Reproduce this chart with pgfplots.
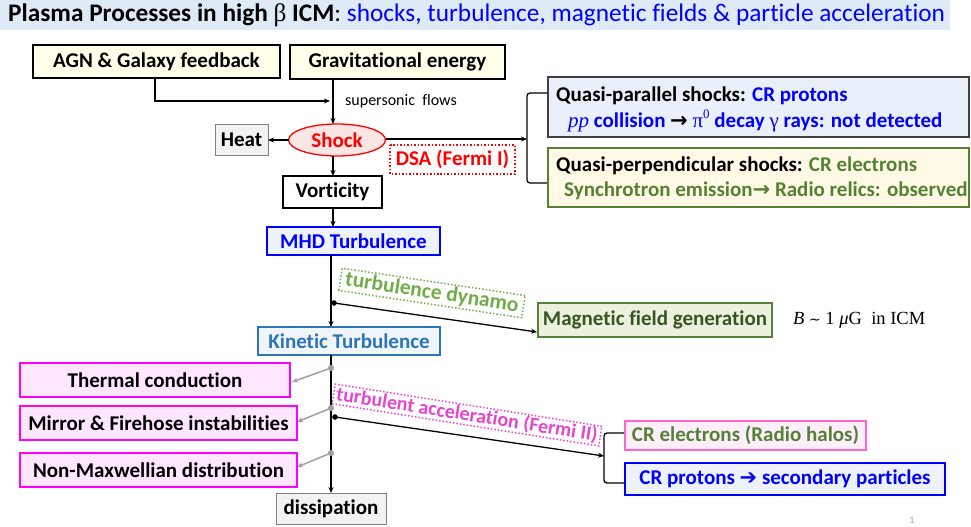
\documentclass[border=0pt]{standalone}
\usepackage{pgfplots}
\pgfplotsset{compat=1.18}
\usepackage{fontspec}
\setmainfont{Carlito}[Ligatures=NoCommon]
\newfontfamily\serif{Liberation Serif}
\newfontfamily\dejavu{DejaVu Sans}
\usetikzlibrary{arrows.meta,shapes.geometric}
\definecolor{titlebg}{HTML}{DEEBF7}
\definecolor{tblue}{HTML}{0000FF}
\definecolor{yelbox}{HTML}{FFFFEA}
\definecolor{shockfill}{HTML}{FCE6E4}
\definecolor{heatfill}{HTML}{F2F2F2}
\definecolor{heatdraw}{HTML}{7F7F7F}
\definecolor{b1fill}{HTML}{EAF0FA}
\definecolor{b2fill}{HTML}{FFF9E6}
\definecolor{dgreen}{HTML}{548235}
\definecolor{lgreen}{HTML}{70AD47}
\definecolor{mgfill}{HTML}{EBF1DE}
\definecolor{mgtext}{HTML}{375623}
\definecolor{mhdfill}{HTML}{EEF2FB}
\definecolor{kinblue}{HTML}{2E75B6}
\definecolor{kinfill}{HTML}{F0F5FA}
\definecolor{pinkfill}{HTML}{FFE6FF}
\definecolor{magenta2}{HTML}{FF00FF}
\definecolor{tacc}{HTML}{E545CF}
\definecolor{crefill}{HTML}{FDEEFB}
\definecolor{credraw}{HTML}{FF66CC}
\definecolor{grayarr}{HTML}{A0A0A0}
\newcommand\B{\fontsize{21bp}{24bp}\selectfont\bfseries}
\newcommand\bx[5]{\addplot[#5] coordinates {(#1,#2) (#3,#2) (#3,#4) (#1,#4)} -- cycle;}
\tikzset{arr/.style={line width=1.3bp,-{Stealth[length=6bp,width=5bp]}}}
\begin{document}
\begin{tikzpicture}
\begin{axis}[xmin=0,xmax=971,ymin=0,ymax=527,y dir=reverse,
  scale only axis,width=971bp,height=527bp,hide axis,clip=false]
\path (axis cs:0,0) rectangle (axis cs:971,527);
% title
\bx{0}{0}{950}{30}{fill=titlebg,draw=none}
\node[anchor=west,inner sep=0] at (axis cs:8,15) {\fontsize{25.3bp}{28bp}\selectfont\textbf{Plasma Processes in high {\serif\mdseries β} ICM}:\ \textcolor{tblue}{shocks, turbulence, magnetic fields \& particle acceleration}};
% top boxes
\bx{33}{45}{280}{78}{fill=yelbox,draw=black,line width=1.3bp}
\node at (axis cs:156.5,61.5) {\B AGN \& Galaxy feedback};
\bx{290}{45}{505}{79}{fill=yelbox,draw=black,line width=1.3bp}
\node at (axis cs:397.5,62) {\B Gravitational energy};
\addplot[arr] coordinates {(155,78) (155,101) (330,101)};
\addplot[arr] coordinates {(333,79) (333,124)};
\node[anchor=west,inner sep=0] at (axis cs:345,101) {\fontsize{16bp}{18bp}\selectfont supersonic\ \ flows};
% shock
\node[ellipse,draw=red,fill=shockfill,line width=1.3bp,minimum width=97bp,minimum height=32bp,inner sep=0] (sh) at (axis cs:337,140) {\B\color{red}Shock};
\bx{215}{124}{268}{155}{fill=heatfill,draw=heatdraw,line width=1bp}
\node at (axis cs:241.5,139.5) {\B Heat};
\addplot[arr] coordinates {(289,140) (268,140)};
\addplot[arr] coordinates {(386,139) (527,139)};
\bx{390}{145}{515}{174}{draw=red,dotted,line width=1.5bp}
\node at (axis cs:452.5,159.5) {\B\color{red}DSA (Fermi I)};
\addplot[line width=1.3bp,rounded corners=3bp] coordinates {(548,93) (527,93) (527,183) (548,183)};
% right boxes
\bx{548}{77}{969}{137}{fill=b1fill,draw=black!75,line width=1.3bp}
\node[anchor=west,inner sep=0] at (axis cs:556,96) {\B Quasi-parallel shocks: \textcolor{tblue}{CR protons}};
\node[anchor=west,inner sep=0] at (axis cs:568,121) {\B\color{tblue}{\serif\itshape\mdseries pp} collision {\color{black}\dejavu →} {\serif\mdseries π\raisebox{0.45em}{\fontsize{13bp}{13bp}\selectfont 0}} decay {\serif\mdseries γ} rays: not detected};
\bx{548}{148}{969}{207}{fill=b2fill,draw=dgreen,line width=1.3bp}
\node[anchor=west,inner sep=0] at (axis cs:556,166) {\B Quasi-perpendicular shocks: \textcolor{dgreen}{CR electrons}};
\node[anchor=west,inner sep=0] at (axis cs:564,191) {\B\color{dgreen}Synchrotron emission{\dejavu →} Radio relics: observed};
% vorticity
\addplot[arr] coordinates {(333,156) (333,176)};
\bx{283}{176}{382}{208}{fill=white,draw=black,line width=1.3bp}
\node at (axis cs:332.5,192) {\B Vorticity};
\addplot[arr] coordinates {(333,208) (333,227)};
\bx{267}{227}{440}{255}{fill=mhdfill,draw=tblue,line width=1.3bp}
\node at (axis cs:353.5,241) {\B\color{tblue}MHD Turbulence};
\addplot[arr] coordinates {(331,255) (331,327)};
% dynamo
\addplot[only marks,mark=*,mark size=2.5bp,black] coordinates {(334,303)};
\addplot[arr] coordinates {(334,303) (537,332)};
\node[rotate=-8.5,draw=lgreen,dotted,line width=1.5bp,inner xsep=5bp,inner ysep=2bp,text=lgreen] at (axis cs:432,293) {\fontsize{21.5bp}{24bp}\selectfont\bfseries turbulence dynamo};
\bx{538}{303}{772}{337}{fill=mgfill,draw=dgreen,line width=1.3bp}
\node at (axis cs:655,320) {\B\color{mgtext}Magnetic field generation};
\node[anchor=west,inner sep=0] at (axis cs:793,320) {\serif\fontsize{18.5bp}{20bp}\selectfont\itshape B\upshape\ {\dejavu\fontsize{14bp}{14bp}\selectfont ∼}\ 1\ \itshape μ\upshape G\ \ in ICM};
% kinetic
\bx{258}{327}{440}{355}{fill=kinfill,draw=kinblue,line width=1.3bp}
\node at (axis cs:349,341) {\B\color{kinblue}Kinetic Turbulence};
\addplot[arr] coordinates {(331,355) (331,493)};
% gray branches
\addplot[only marks,mark=*,mark size=2.8bp,grayarr] coordinates {(331,368) (331,408) (331,453)};
\addplot[arr,grayarr,line width=1.5bp] coordinates {(331,368) (292,382)};
\addplot[arr,grayarr,line width=1.5bp] coordinates {(331,408) (297,422)};
\addplot[arr,grayarr,line width=1.5bp] coordinates {(331,453) (297,467)};
\bx{20}{363}{290}{397}{fill=pinkfill,draw=magenta2,line width=1.3bp}
\node at (axis cs:155,380) {\B Thermal conduction};
\bx{20}{406}{297}{440}{fill=pinkfill,draw=magenta2,line width=1.3bp}
\node at (axis cs:158.5,423) {\B Mirror \& Firehose instabilities};
\bx{20}{453}{297}{487}{fill=pinkfill,draw=magenta2,line width=1.3bp}
\node at (axis cs:158.5,470) {\B Non-Maxwellian distribution};
\bx{276}{493}{386}{524}{fill=heatfill,draw=heatdraw,line width=1bp}
\node at (axis cs:331,508.5) {\B dissipation};
% turbulent acceleration
\addplot[only marks,mark=*,mark size=2.5bp,black] coordinates {(335,417)};
\addplot[arr] coordinates {(335,417) (604,456)};
\node[rotate=-9,draw=tacc,dotted,line width=1.5bp,inner xsep=3bp,inner ysep=1bp,text=tacc] at (axis cs:467,415) {\fontsize{20bp}{22bp}\selectfont\bfseries turbulent acceleration (Fermi II)};
\addplot[line width=1.3bp,rounded corners=3bp] coordinates {(625,433) (604,433) (604,483) (625,483)};
\bx{625}{421}{866}{450}{fill=crefill,draw=credraw,line width=1.3bp}
\node at (axis cs:745.5,435.5) {\B\color{dgreen}CR electrons (Radio halos)};
\bx{625}{463}{945}{495}{fill=mhdfill,draw=tblue,line width=1.3bp}
\node at (axis cs:785,479) {\B\color{tblue}CR protons {\dejavu\bfseries ➔} secondary particles};
\node[text=gray!70] at (axis cs:912,520) {\fontsize{10bp}{12bp}\selectfont 1};
\end{axis}
\end{tikzpicture}
\end{document}
